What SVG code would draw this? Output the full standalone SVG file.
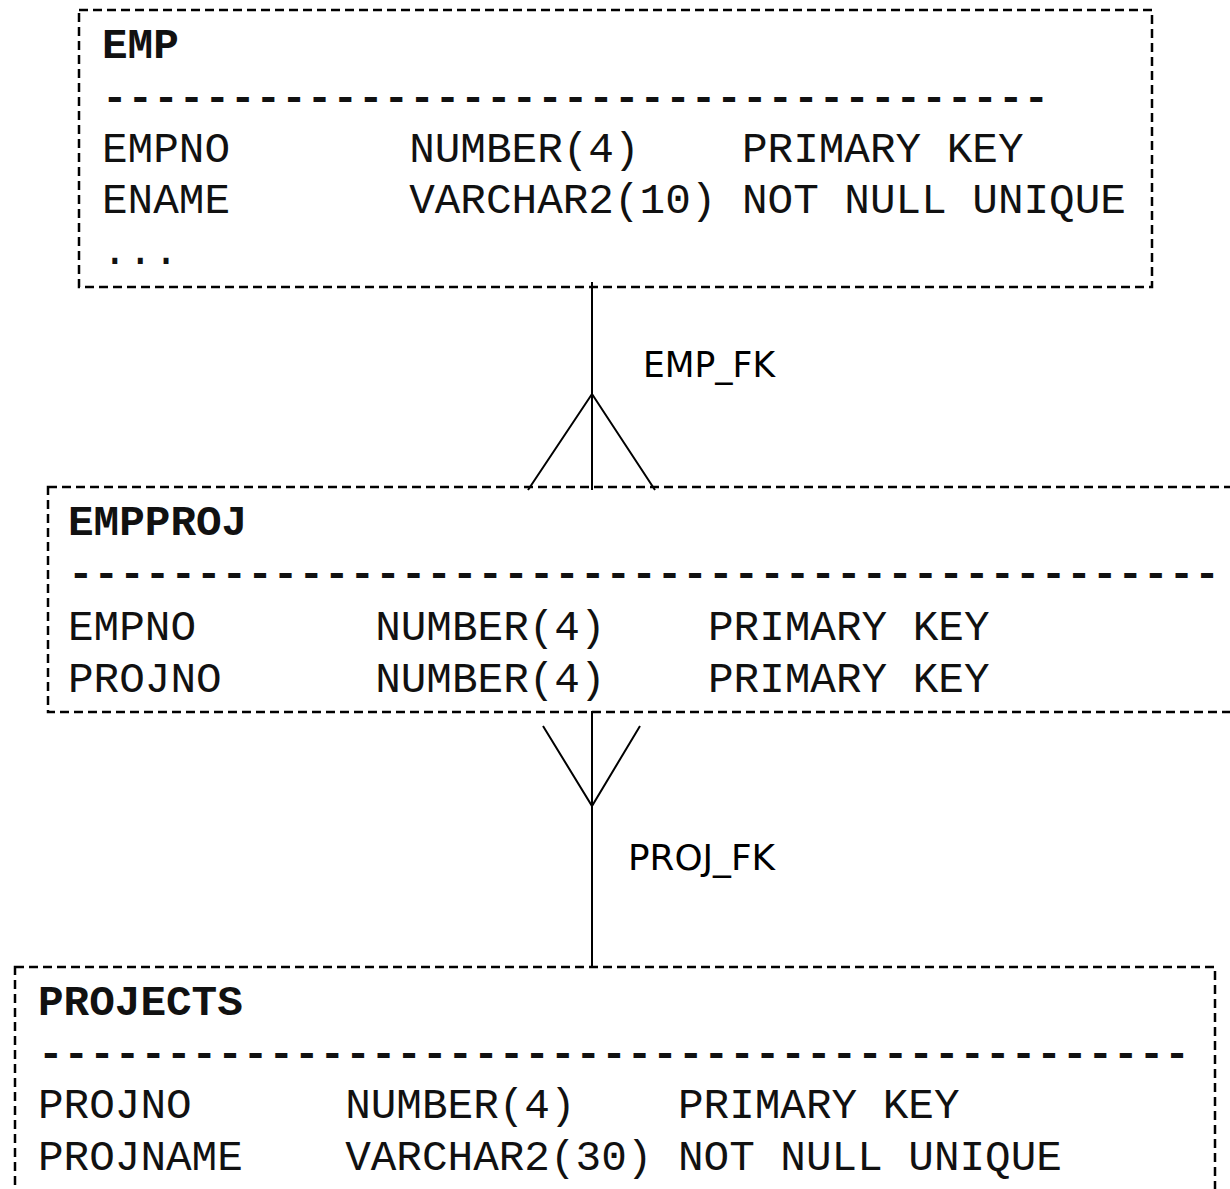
<svg xmlns="http://www.w3.org/2000/svg" width="1230" height="1189" viewBox="0 0 1230 1189">
<style>
.box{fill:none;stroke:#000;stroke-width:2.5;stroke-dasharray:9 5}
.mono{font-family:"Liberation Mono","Courier New",monospace;font-size:42.67px;fill:#111;white-space:pre}
.title{font-weight:bold}
.rule{font-weight:bold}
.conn{fill:none;stroke:#000;stroke-width:2}
.lbl{font-family:"DejaVu Sans",Verdana,sans-serif;font-size:36px;fill:#000}
</style>
<rect width="1230" height="1189" fill="#fff"/>
<g id="EMP">
<rect class="box" x="79" y="10" width="1073" height="277"/>
<text class="mono title" x="102" y="58">EMP</text>
<text class="mono rule" x="102" y="111">-------------------------------------</text>
<text class="mono" x="102" y="162" xml:space="preserve">EMPNO       NUMBER(4)    PRIMARY KEY</text>
<text class="mono" x="102" y="213" xml:space="preserve">ENAME       VARCHAR2(10) NOT NULL UNIQUE</text>
<text class="mono" x="102" y="264">...</text>
</g>
<g id="EMPPROJ">
<rect class="box" x="48" y="487" width="1200" height="225"/>
<text class="mono title" x="68" y="535">EMPPROJ</text>
<text class="mono rule" x="68" y="587">---------------------------------------------</text>
<text class="mono" x="68" y="640" xml:space="preserve">EMPNO       NUMBER(4)    PRIMARY KEY</text>
<text class="mono" x="68" y="692" xml:space="preserve">PROJNO      NUMBER(4)    PRIMARY KEY</text>
</g>
<g id="PROJECTS">
<rect class="box" x="15" y="967" width="1200" height="260"/>
<text class="mono title" x="38" y="1015">PROJECTS</text>
<text class="mono rule" x="38" y="1067">---------------------------------------------</text>
<text class="mono" x="38" y="1118" xml:space="preserve">PROJNO      NUMBER(4)    PRIMARY KEY</text>
<text class="mono" x="38" y="1170" xml:space="preserve">PROJNAME    VARCHAR2(30) NOT NULL UNIQUE</text>
</g>
<g id="connectors">
<g id="EMP_FK">
<path class="conn" d="M592 282 V490 M528 490 L592 394 L655 490"/>
<text class="lbl" x="643" y="377" textLength="132" lengthAdjust="spacingAndGlyphs">EMP_FK</text>
</g>
<g id="PROJ_FK">
<path class="conn" d="M592 711 V967 M543 726 L592 806 L640 726"/>
<text class="lbl" x="628" y="870" textLength="147" lengthAdjust="spacingAndGlyphs">PROJ_FK</text>
</g>
</g>
</svg>
